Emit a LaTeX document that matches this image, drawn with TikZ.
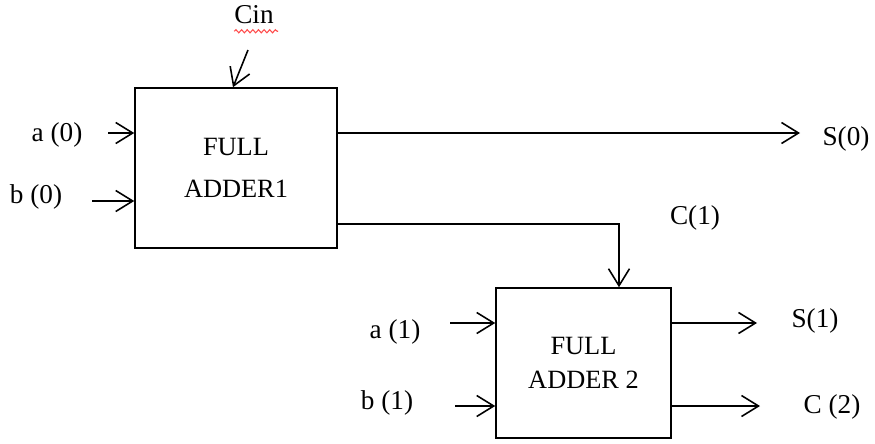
\documentclass[tikz,border=0pt]{standalone}
\usepackage{fontspec}
\setmainfont{Liberation Serif}
\usepackage{tikz}
\usetikzlibrary{positioning,arrows.meta,decorations.pathmorphing}

\begin{document}
\begin{tikzpicture}[
  x=0.02cm, y=-0.02cm,
  adder/.style={draw, line width=0.9pt, align=center, inner sep=0pt,
                font=\fontsize{15}{19.5}\selectfont},
  lbl/.style={font=\fontsize{15.5}{18}\selectfont, inner sep=1pt},
  ar/.style={-{Straight Barb[length=3.4mm,width=4.2mm,line width=0.9pt]}, line width=0.9pt}
]
\useasboundingbox (0,0) rectangle (875,443);

% the two adders
\node[adder, minimum width=4.04cm, minimum height=3.2cm] (fa1) at (236,168) {FULL\\[4pt]ADDER1};
\node[adder, minimum width=3.5cm, minimum height=3.0cm] (fa2) at (583.5,363) {FULL\\ADDER 2};

% labels
\node[lbl] (cin) at (254,15) {Cin};
\node[lbl] (a0) at (57,135) {a (0)};
\node[lbl] (b0) at (36,197) {b (0)};
\node[lbl] (s0) at (846,139) {S(0)};
\node[lbl] (c1) at (695,218) {C(1)};
\node[lbl] (a1) at (395,332) {a (1)};
\node[lbl] (b1) at (387,403) {b (1)};
\node[lbl] (s1) at (815,321) {S(1)};
\node[lbl] (c2) at (832,407) {C (2)};

% spell-check squiggle under Cin
\draw[red!70, line width=0.6pt, decoration={snake, amplitude=0.9pt, segment length=3.2pt}, decorate]
  (cin.south west) ++(2,5) -- ++(44,0);

% free ends of the connectors
\coordinate (cinT) at (248,50);
\coordinate (cinB) at (233,90);
\coordinate (a0L) at (108,133);
\coordinate (b0L) at (92,201);
\coordinate (s0R) at (800,133);
\coordinate (cbend) at (619,224);
\coordinate (a1L) at (450,323);
\coordinate (b1L) at (455,406);
\coordinate (s1R) at (757,323);
\coordinate (c2R) at (760,406);

\draw[ar] (cinT) -- (cinB |- fa1.north);
\draw[ar] (a0L) -- (a0L -| fa1.west);
\draw[ar] (b0L) -- (b0L -| fa1.west);
\draw[ar] (s0R -| fa1.east) -- (s0R);
\draw[ar] (cbend -| fa1.east) -- (cbend) -- (cbend |- fa2.north);

\draw[ar] (a1L) -- (a1L -| fa2.west);
\draw[ar] (b1L) -- (b1L -| fa2.west);
\draw[ar] (s1R -| fa2.east) -- (s1R);
\draw[ar] (c2R -| fa2.east) -- (c2R);
\end{tikzpicture}
\end{document}
